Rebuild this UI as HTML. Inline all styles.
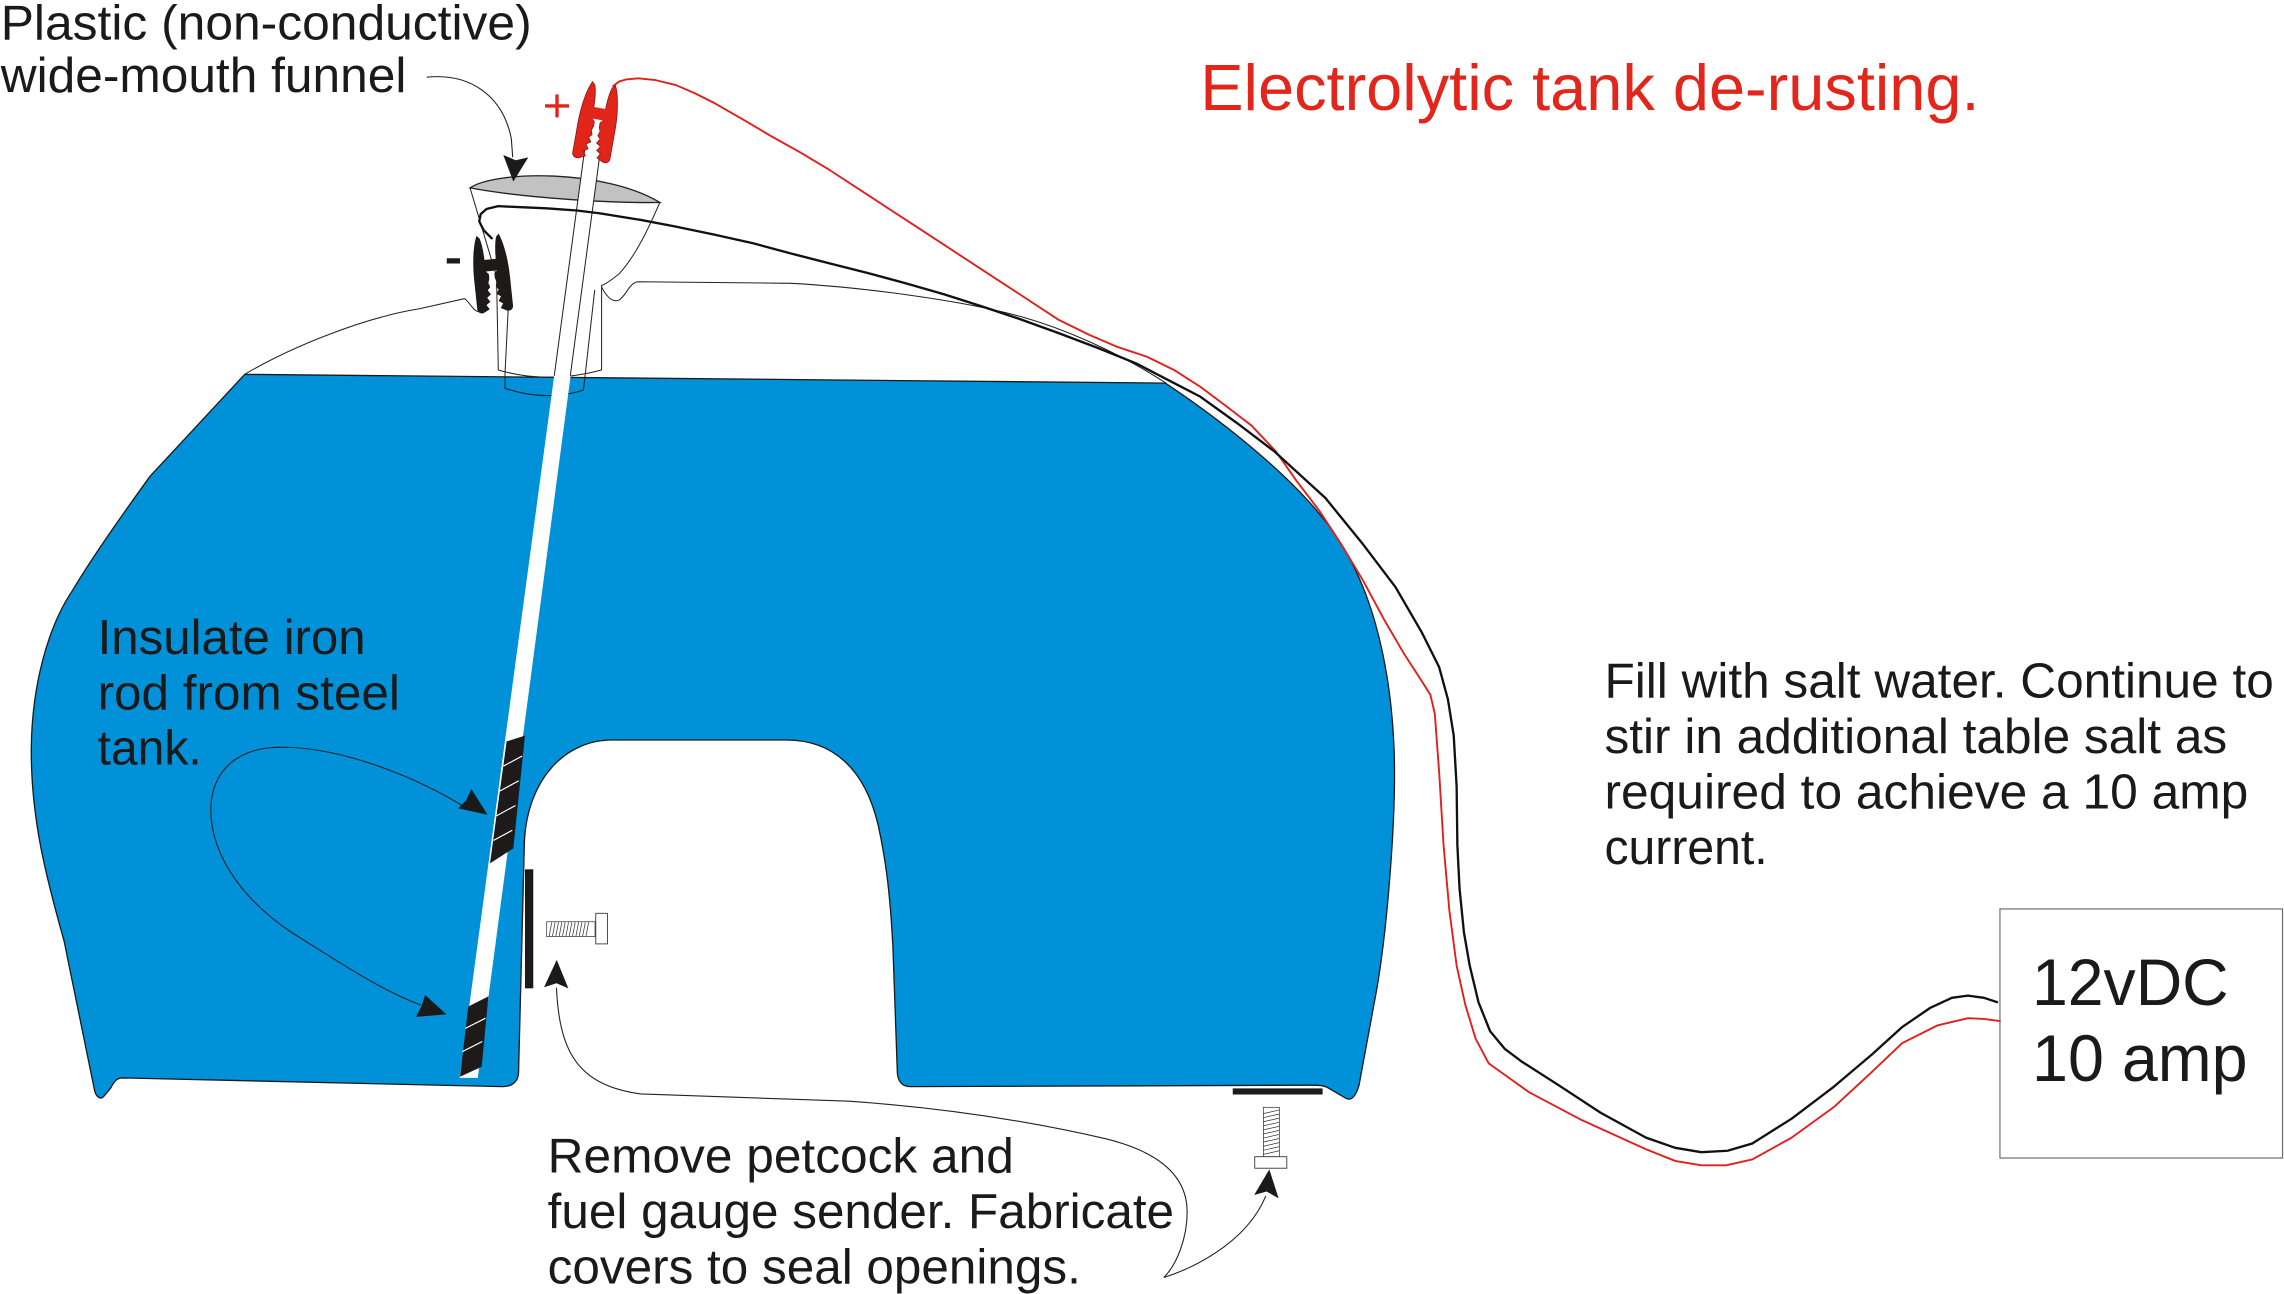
<!DOCTYPE html>
<html>
<head>
<meta charset="utf-8">
<style>
html,body{margin:0;padding:0;background:#ffffff;}
svg{display:block;}
text{font-family:"Liberation Sans",Arial,sans-serif;}
</style>
</head>
<body>
<svg width="2284" height="1294" viewBox="0 0 1568 888.35" preserveAspectRatio="none" xmlns="http://www.w3.org/2000/svg">
<rect x="0" y="0" width="1568" height="888.35" fill="#ffffff"/>

<!-- Tank -->
<path d="M168,257 L800,263 C830,283 895,330 921,374 C945,412 955,465 957,513 C959,560 952,640 945,680 L933,745 C931,752 928,756 924,754 L912,747 C909,745 905,745 900,745 L625,746 C619,746 616,742 616,735 L613,650 C611,612 608,590 603,567 C594,528 572,508 540,508 L420,508 C388,508 362,535 360,578 L356,736 C356,742 352,746 345,746 L84,740 C80,740 78,743 76,747 L71,753 C69,755 66,753 65,749 L44,646 C31,600 21,560 21.5,513 C22,470 33,430 50,405 C65,380 85,352 103,327 Z" fill="#0091D9" stroke="#1a1a1a" stroke-width="0.9"/>

<!-- thin tank top lines near filler -->
<path d="M168,257 C200,238 250,218 288,212 L319,205 C323,208 325,214 329,214 C331,213 332,211 333,208" fill="none" stroke="#222" stroke-width="0.7"/>
<path d="M413,197 C416,203 420,208 425,206 C430,203 432,194 438,193.4 L543,194.5 C590,197 660,206 701,217.4 C728,225 765,240 800.8,263.2" fill="none" stroke="#222" stroke-width="0.7"/>

<!-- Funnel -->
<path d="M322.7,129 L340.9,190 L342.1,254" fill="none" stroke="#222" stroke-width="0.7"/>
<path d="M453,139 C446,155 437,175 425,188 C420,192 416,195 413,196 L413,254" fill="none" stroke="#222" stroke-width="0.7"/>
<path d="M342.1,254 Q376,264 413,254" fill="none" stroke="#222" stroke-width="0.7"/>
<path d="M349,210 L346.7,256.3 L346.7,266.6 Q375,276 400.5,267.8 L401.6,258.6 L408.3,199" fill="none" stroke="#222" stroke-width="0.7"/>
<path d="M322.7,129 C340,117 415,116 453,139 C420,139.5 360,136 322.7,129 Z" fill="#C2C2C2" stroke="#222" stroke-width="0.9"/>

<!-- Rod -->
<polygon points="401.6,101 412.5,101 328,740 315.5,740" fill="#ffffff"/>
<line x1="401.6" y1="101" x2="380.5" y2="258" stroke="#222" stroke-width="0.7"/>
<line x1="412.5" y1="101" x2="391.5" y2="258" stroke="#222" stroke-width="0.7"/>

<!-- Insulation wraps -->
<polygon points="347.8,509 360.4,505 352.4,582.4 336.4,592.7" fill="#1e1a1a"/>
<g stroke="#ffffff" stroke-width="0.8">
<line x1="345.5" y1="526" x2="358.5" y2="519"/>
<line x1="343.2" y1="543" x2="356.2" y2="536"/>
<line x1="340.9" y1="560" x2="353.9" y2="553"/>
<line x1="338.7" y1="577" x2="351.7" y2="570"/>
</g>
<polygon points="321.5,691 335.3,684 330.7,732.3 315.8,739.2" fill="#1e1a1a"/>
<g stroke="#ffffff" stroke-width="0.8">
<line x1="319.5" y1="706" x2="333.3" y2="699"/>
<line x1="317.3" y1="722" x2="331.1" y2="715"/>
</g>

<!-- Red clip -->
<g transform="translate(410,84) rotate(10) translate(-13,-27)" fill="#E1251B" stroke="#8a1010" stroke-width="0.5">
<path d="M5,0 C2,6 0,18 0,30 L0,50 C0,53 3,54 5,53 L9,51 L7,48 L10,46 L8,43 L11,41 L9,38 L11,36 L10,33 L11,30 L11,27 L9,25 C9,17 9,8 7,2 Z"/>
<path d="M21,0 C24,6 26,18 26,30 L26,50 C26,53 23,54 21,53 L17,51 L19,48 L16,46 L18,43 L15,41 L17,38 L15,36 L16,33 L15,30 L15,27 L17,25 C17,17 17,8 19,2 Z"/>
<rect x="8.5" y="17" width="9" height="8" stroke="none"/>
</g>

<!-- Black clip -->
<g transform="translate(337.5,188) rotate(-6) scale(0.95,1) translate(-13,-27)" fill="#1e1a1a">
<path d="M5,0 C2,6 0,18 0,30 L0,50 C0,53 3,54 5,53 L9,51 L7,48 L10,46 L8,43 L11,41 L9,38 L11,36 L10,33 L11,30 L11,27 L9,25 C9,17 9,8 7,2 Z"/>
<path d="M21,0 C24,6 26,18 26,30 L26,50 C26,53 23,54 21,53 L17,51 L19,48 L16,46 L18,43 L15,41 L17,38 L15,36 L16,33 L15,30 L15,27 L17,25 C17,17 17,8 19,2 Z"/>
<rect x="8.5" y="17" width="9" height="8"/>
</g>

<!-- + and - -->
<g stroke="#E1251B" stroke-width="2.3">
<line x1="374.2" y1="72.7" x2="390.6" y2="72.7"/>
<line x1="382.4" y1="64.8" x2="382.4" y2="80.6"/>
</g>
<rect x="306.7" y="177.3" width="9.1" height="3.6" fill="#1e1a1a"/>

<!-- Wires -->
<polyline points="421,59 425,56 430,54.5 438,53.8 450,55 464,58.4 477,64 490.7,70.9 510,82 530,93.8 550,105 569.5,116.7 596,134 622,151 648,168 674.6,185.4 700,202 727,219.7 748,230 766.6,238 787.6,245 806,254 824,265.5 842,279 859,292 876,310 890,330 906,351 921,374 936,399 950,425 964,449 975,466 982,477 985,490 988,530 991,580 995,625 1000,663 1006,690 1013,713 1022,730 1050,750 1086,769 1130,789 1150,797 1168,800 1185,800 1203,796 1230,781 1259,760 1285,736 1306,716 1330,704 1351,699 1362,699.5 1373,701" fill="none" stroke="#E0201B" stroke-width="1.3" stroke-linejoin="round" stroke-linecap="round"/>
<polyline points="337.6,163.6 332,158 329,152 330,147 334,143.5 342,141.5 352,142 375,143 396,144.5 412,146.5 440,151 464,155.6 490,161 517,167 543,174 569.5,180.8 596,187.5 622,194.5 648,202 674.6,210.5 700,219 727,228.8 754,239 780,249.5 806,263 824,272.3 850,291 875,310 910,342 936,374 958,403 976,434 988,458 994,480 998,505 1000,540 1000.5,580 1002,610 1005,640 1009,663 1015,688 1023,708 1033,720 1045,729 1070,745 1099,764 1130,781 1150,788 1168,791 1186,790 1203,785 1230,768 1259,746 1285,724 1306,705 1325,692 1340,685 1351,683.5 1362,685 1371,688" fill="none" stroke="#111" stroke-width="1.6" stroke-linejoin="round" stroke-linecap="round"/>

<!-- Cover plates and bolts -->
<rect x="360.4" y="596.8" width="5.7" height="81.7" fill="#1e1a1a"/>
<rect x="375.3" y="632.8" width="33.2" height="10.2" fill="#fff" stroke="#333" stroke-width="0.5"/>
<g stroke="#333" stroke-width="0.5">
<line x1="377" y1="642.6" x2="378.8" y2="633.2"/>
<line x1="379.3" y1="642.6" x2="381.1" y2="633.2"/>
<line x1="381.6" y1="642.6" x2="383.4" y2="633.2"/>
<line x1="383.9" y1="642.6" x2="385.7" y2="633.2"/>
<line x1="386.2" y1="642.6" x2="388" y2="633.2"/>
<line x1="388.5" y1="642.6" x2="390.3" y2="633.2"/>
<line x1="390.8" y1="642.6" x2="392.6" y2="633.2"/>
<line x1="393.1" y1="642.6" x2="394.9" y2="633.2"/>
<line x1="395.4" y1="642.6" x2="397.2" y2="633.2"/>
<line x1="397.7" y1="642.6" x2="399.5" y2="633.2"/>
<line x1="400" y1="642.6" x2="401.8" y2="633.2"/>
<line x1="402.3" y1="642.6" x2="404.1" y2="633.2"/>
</g>
<rect x="409" y="627" width="8" height="21" fill="#fff" stroke="#333" stroke-width="0.6"/>

<rect x="846.3" y="747.2" width="61.7" height="4.2" fill="#1e1a1a"/>
<rect x="867.3" y="760.2" width="11" height="33.9" fill="#fff" stroke="#333" stroke-width="0.5"/>
<g stroke="#333" stroke-width="0.5">
<line x1="867.3" y1="764.5" x2="878.3" y2="762"/>
<line x1="867.3" y1="767.3" x2="878.3" y2="764.8"/>
<line x1="867.3" y1="770.1" x2="878.3" y2="767.6"/>
<line x1="867.3" y1="772.9" x2="878.3" y2="770.4"/>
<line x1="867.3" y1="775.7" x2="878.3" y2="773.2"/>
<line x1="867.3" y1="778.5" x2="878.3" y2="776"/>
<line x1="867.3" y1="781.3" x2="878.3" y2="778.8"/>
<line x1="867.3" y1="784.1" x2="878.3" y2="781.6"/>
<line x1="867.3" y1="786.9" x2="878.3" y2="784.4"/>
<line x1="867.3" y1="789.7" x2="878.3" y2="787.2"/>
<line x1="867.3" y1="792.5" x2="878.3" y2="790"/>
</g>
<rect x="861.4" y="794.1" width="22" height="7.9" fill="#fff" stroke="#333" stroke-width="0.6"/>

<!-- Arrows -->
<g fill="none" stroke="#222" stroke-width="0.75">
<path d="M293,53 C322,50 345,65 351,95 L352,108"/>
<path d="M319,554 C290,536 240,514 196,513 C162,512 145,530 144.7,556 C145,590 170,620 200,640 C235,662 262,680 289,690"/>
<path d="M382,678 C384,720 395,745 440,751 L583,756 C640,760 700,768 760,782 C800,792 815,810 815,832 C815,850 808,868 799,877 C815,872 855,855 869,821"/>
</g>
<g fill="#1a1a1a">
<polygon points="352.4,124.7 345.5,106.4 354,110 362.7,108"/>
<polygon points="334.7,559.3 314.6,555 320,549.5 323.6,541.7"/>
<polygon points="306.5,696.4 285.6,698.1 289.5,690.5 291.8,683"/>
<polygon points="382.2,659 373.5,677.8 382,675 390.2,678.5"/>
<polygon points="871.4,802.8 861,820.4 869.5,818 877.8,822.7"/>
</g>

<!-- Power supply box -->
<rect x="1373" y="624" width="194" height="171" fill="none" stroke="#6a6a6a" stroke-width="0.8"/>

<!-- Text -->
<g fill="#1a1a1a" font-size="34">
<text x="0.5" y="27" textLength="364.5" lengthAdjust="spacingAndGlyphs">Plastic (non-conductive)</text>
<text x="0.5" y="63" textLength="278.5" lengthAdjust="spacingAndGlyphs">wide-mouth funnel</text>

<text x="67" y="449" textLength="184" lengthAdjust="spacingAndGlyphs">Insulate iron</text>
<text x="67" y="487" textLength="207.5" lengthAdjust="spacingAndGlyphs">rod from steel</text>
<text x="67" y="525" textLength="71.5" lengthAdjust="spacingAndGlyphs">tank.</text>

<text x="1101.5" y="479" textLength="459.5" lengthAdjust="spacingAndGlyphs">Fill with salt water. Continue to</text>
<text x="1101.5" y="517" textLength="427.5" lengthAdjust="spacingAndGlyphs">stir in additional table salt as</text>
<text x="1101.5" y="555" textLength="442" lengthAdjust="spacingAndGlyphs">required to achieve a 10 amp</text>
<text x="1101.5" y="593" textLength="112" lengthAdjust="spacingAndGlyphs">current.</text>

<text x="376" y="805" textLength="320" lengthAdjust="spacingAndGlyphs">Remove petcock and</text>
<text x="376" y="843" textLength="430" lengthAdjust="spacingAndGlyphs">fuel gauge sender. Fabricate</text>
<text x="376" y="881" textLength="366" lengthAdjust="spacingAndGlyphs">covers to seal openings.</text>
</g>
<g fill="#1a1a1a" font-size="45">
<text x="1395" y="690" textLength="135" lengthAdjust="spacingAndGlyphs">12vDC</text>
<text x="1395" y="742" textLength="148" lengthAdjust="spacingAndGlyphs">10 amp</text>
</g>
<text x="824" y="75.5" font-size="44.5" fill="#E2261C" textLength="535" lengthAdjust="spacingAndGlyphs">Electrolytic tank de-rusting.</text>
</svg>
</body>
</html>
